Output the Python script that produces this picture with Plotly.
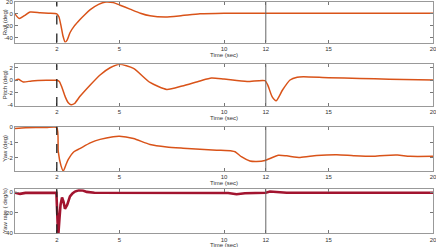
import plotly.graph_objects as go
from plotly.subplots import make_subplots

# ---------------- data ----------------
roll_t = [0, 0.2, 0.45, 0.72, 1.2, 1.6, 2.0, 2.1, 2.2, 2.3, 2.4, 2.5, 2.63, 2.85, 3.1, 3.35, 3.6,
          4.0, 4.35, 4.7, 5.0, 5.5, 6.0, 6.46, 7.2, 8.0, 8.85, 10, 11, 12, 13, 14, 15, 16, 17, 18, 19, 20]
roll = [0, -8, -3, 3, 2, 1, 0, -5, -20, -38, -48, -44, -32, -20, -10, -1, 7,
        16, 20, 19, 15, 8, 1, -3.4, -5.5, -3, 0, 1, 1, 1, 0.8, 0.8, 1, 0.8, 1, 0.8, 1, 1]

pitch_t = [0, 0.16, 0.4, 0.8, 1.5, 2.0, 2.12, 2.23, 2.4, 2.55, 2.68, 2.85, 3.1, 3.6, 4.07, 4.55,
           5.0, 5.67, 6.46, 7.26, 8.0, 8.85, 9.4, 10, 11.1, 11.96, 12.1, 12.3, 12.5, 12.8, 13.16,
           13.5, 13.8, 15, 16.5, 17.9, 20]
pitch = [-0.05, 0.15, -0.27, -0.1, 0, 0, -0.2, -1.0, -2.6, -3.6, -3.9, -3.7, -2.6, -0.75, 0.85, 2.0,
         2.55, 1.9, -0.35, -1.45, -0.9, -0.1, 0.37, 0.2, -0.2, -0.06, -0.8, -2.6, -3.25, -1.55, 0.05,
         0.5, 0.57, 0.42, 0.3, 0.16, 0.05]

yaw_t = [0, 0.5, 1.0, 1.5, 2.0, 2.07, 2.2, 2.31, 2.45, 2.55, 2.82, 3.1, 3.6, 4.07, 4.7, 5.0, 5.67,
         6.46, 7.26, 8.04, 8.85, 9.65, 10.37, 10.53, 10.85, 11.24, 11.56, 11.96, 12.2, 12.6, 13.0,
         13.64, 14.43, 15.4, 16.2, 17.1, 17.7, 18.3, 18.9, 20]
yaw = [-0.1, -0.05, -0.03, -0.03, -0.03, -1.6, -2.5, -2.85, -2.4, -2.1, -1.6, -1.4, -1.03, -0.8,
       -0.63, -0.6, -0.75, -1.13, -1.29, -1.37, -1.44, -1.5, -1.55, -1.6, -1.94, -2.2, -2.23, -2.17,
       -2.04, -1.83, -1.87, -1.97, -1.85, -1.8, -1.86, -1.9, -1.84, -1.82, -1.9, -1.9]

rate_t = [0, 0.24, 0.5, 1.0, 1.5, 1.98, 2.04, 2.08, 2.13, 2.18, 2.25, 2.32, 2.39, 2.5, 2.63, 2.75,
          2.87, 3.05, 3.25, 3.43, 3.8, 4.5, 5.5, 6.5, 7.5, 8.5, 9.5, 10.2, 10.6, 11.0, 11.5, 12.0,
          12.2, 12.6, 13.0, 14, 15, 16, 17, 18, 19, 20]
rate = [-0.3, -1.5, -0.5, -0.5, -0.5, -0.5, -30, -39.5, -25, -12, -5, -9, -16, -12, -4, -1,
        0.8, 2.0, 1.8, 0.5, -0.4, -0.5, -0.6, -0.6, -0.5, -0.6, -0.5, -0.6, -1.8, -0.8, -0.6, -0.3,
        0.8, 0.2, -0.3, -0.4, -0.3, -0.4, -0.3, -0.4, -0.3, -0.3]

event_times = [2, 12]
x_ticks = [2, 5, 10, 12, 15, 20]
y_titles = ["Roll (deg)", "Pitch (deg)", "Yaw (deg)", "Yaw rate ( deg/s)"]
y_ticks = [[20, 0, -20, -40], [2, 0, -2, -4], [0, -1, -2], [0, -20, -40]]
y_ranges = [[-48.5, 20], [-4.1, 2.55], [-2.85, 0.02], [-40, 3]]

# ---------------- figure ----------------
W, H = 436, 247
ORANGE = "#D95319"
RED = "#A2142F"
fig = make_subplots(rows=4, cols=1)

series = [(roll_t, roll, ORANGE, 1.5, "spline"), (pitch_t, pitch, ORANGE, 1.5, "spline"),
          (yaw_t, yaw, ORANGE, 1.5, "spline"), (rate_t, rate, RED, 2.6, "linear")]
for i, (t, v, c, w, sh) in enumerate(series):
    fig.add_trace(go.Scatter(x=t, y=v, mode="lines",
                             line=dict(color=c, width=w, shape=sh, smoothing=0.6),
                             showlegend=False, hoverinfo="skip"), row=i + 1, col=1)

# pixel boxes (top, bottom) for each panel
boxes = [(2, 42.5), (64.3, 106), (126.7, 171), (189.3, 233.3)]
xdom = [15 / W, 433 / W]
font = dict(family="Liberation Sans, Arial, sans-serif", size=6, color="#333")

for i, (top, bot) in enumerate(boxes):
    n = "" if i == 0 else str(i + 1)
    fig.layout["xaxis" + n].update(
        domain=xdom, range=[0, 20], tickvals=x_ticks, ticks="inside", ticklen=3,
        tickcolor="#777", showline=True, mirror="ticks", linecolor="#999", linewidth=1,
        showgrid=False, zeroline=False, tickfont=font, automargin=False,
        ticklabeloverflow="allow")
    fig.layout["yaxis" + n].update(
        domain=[1 - bot / H, 1 - top / H], range=y_ranges[i], tickvals=y_ticks[i],
        ticktext=[str(v) for v in y_ticks[i]],
        ticks="inside", ticklen=3, tickcolor="#777", showline=True, mirror="ticks",
        linecolor="#999", linewidth=1, showgrid=False, zeroline=False, tickfont=font,
        automargin=False, ticklabeloverflow="allow")
    xr = "x" + n
    yr = "y" + n + " domain"
    fig.add_shape(type="line", xref=xr, yref=yr, x0=event_times[0], x1=event_times[0], y0=0, y1=1,
                  line=dict(color="#222", width=1.3, dash="dash"))
    fig.add_shape(type="line", xref=xr, yref=yr, x0=event_times[1], x1=event_times[1], y0=0, y1=1,
                  line=dict(color="#666", width=1))
    fig.add_annotation(text="Time (sec)", xref="paper", yref="paper", x=224 / W,
                       y=1 - (bot + 12) / H, showarrow=False, font=font,
                       xanchor="center", yanchor="middle")
    fig.add_annotation(text=y_titles[i], xref="paper", yref="paper", x=5 / W,
                       y=1 - (top + bot) / 2 / H, showarrow=False, font=font, textangle=-90,
                       xanchor="center", yanchor="middle")

fig.update_layout(width=W, height=H, margin=dict(l=0, r=0, t=0, b=0), autosize=False,
                  paper_bgcolor="white", plot_bgcolor="white", hovermode=False)
fig.write_html("out.html", config={"displayModeBar": False, "staticPlot": True},
               post_script="document.body.style.margin='0';document.body.style.overflow='hidden';")
